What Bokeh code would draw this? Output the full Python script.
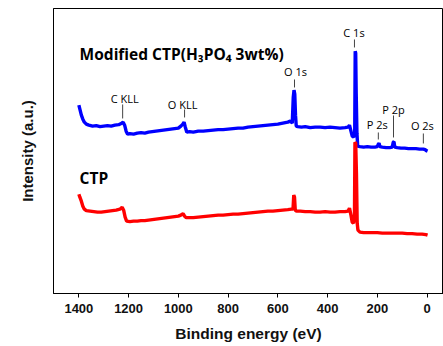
from bokeh.plotting import figure
from bokeh.models import Range1d, FixedTicker
from bokeh.core.properties import value
from bokeh.embed import file_html
from bokeh.resources import INLINE

# ---- data (binding energy eV, intensity a.u.) ----
mod_ev = [1400, 1396, 1390, 1384, 1378, 1370, 1360, 1345, 1330, 1315, 1300, 1285, 1270, 1255, 1240,
          1228, 1222, 1216, 1210, 1204, 1195, 1180, 1165, 1150, 1135, 1120, 1105, 1090, 1075, 1060,
          1045, 1030, 1015, 1000, 990, 982, 977, 972, 966, 955, 940, 920, 900, 880, 860, 840, 820,
          800, 780, 760, 740, 720, 700, 680, 660, 640, 620, 600, 580, 560, 550, 542, 538, 535, 532,
          529, 526, 520, 505, 490, 470, 450, 430, 410, 390, 370, 350, 330, 318, 312, 306, 301,
          295, 291, 289, 287, 285, 282, 279, 270, 255, 240, 225, 210, 200, 196, 193, 190, 180, 165,
          150, 140, 136, 133, 130, 120, 105, 90, 75, 60, 45, 30, 15, 8, 3, -2]
mod_int = [188, 184, 178, 174, 171, 169, 168, 167, 167.5, 166.5, 167, 167.5, 167, 168, 168.5,
           170, 171, 168, 162, 159, 159.5, 159, 160, 160.5, 160, 161, 161.5, 162, 162.5, 163,
           163.5, 164, 164.5, 165, 167, 169, 171, 166, 161, 161.5, 161, 162, 162, 162.5, 163, 163.5, 163.5,
           164, 164.5, 165, 165, 166, 166.5, 167, 167.5, 168, 168.5, 169, 170, 171, 172, 170, 196, 203, 199,
           178, 167, 166.5, 166, 166.5, 165.5, 166, 166, 165.5, 166, 165.5, 165, 165.5, 166, 168, 162, 157,
           156, 160, 242, 240, 200, 160, 147, 146.5, 146, 146.5, 146, 146, 146.5, 149, 150, 146.5, 146, 145.5,
           145.5, 146, 151, 151.5, 146, 145.5, 145, 145, 144.5, 144.5, 144.5, 144, 144, 143.5, 142.5, 142]

ctp_ev = [1400, 1396, 1390, 1384, 1378, 1370, 1355, 1340, 1325, 1310, 1295, 1280, 1265, 1250, 1235,
          1226, 1220, 1214, 1208, 1195, 1180, 1165, 1150, 1135, 1120, 1105, 1090, 1075, 1060, 1045,
          1030, 1015, 1000, 990, 981, 975, 968, 955, 940, 920, 900, 880, 860, 840, 820, 800, 780,
          760, 740, 720, 700, 680, 660, 640, 620, 600, 580, 560, 545, 539, 536, 533, 530, 525,
          510, 490, 470, 450, 430, 410, 390, 370, 350, 330, 318, 312, 306, 301, 296, 292, 290, 287,
          284, 281, 278, 270, 255, 240, 220, 200, 180, 160, 140, 120, 100, 80, 60, 40, 20, 5, -2]
ctp_int = [99, 96, 92, 87, 84, 82.5, 82, 81.5, 81, 81, 81.5, 82, 82.5, 83, 84,
           86, 83, 76, 72, 71.5, 72, 72, 72.5, 72.5, 73, 73.5, 74, 74.5, 75, 75.5,
           76, 76.5, 77, 78, 79.5, 77, 75.5, 75.5, 75.5, 76, 76.5, 77, 77.5, 78, 78, 78.5, 79,
           79, 79.5, 80, 80.5, 81, 81.5, 82, 82, 82.5, 83, 83.5, 84, 84, 98, 96, 83, 82,
           82, 81.5, 81.5, 81, 81, 81.5, 81, 81, 81.5, 81.5, 82, 85, 78, 71, 70, 75, 151, 150,
           120, 70, 63, 61, 60.5, 60.5, 60.5, 60.5, 60, 60, 60, 60, 60, 59.5, 59.5, 59, 59, 58.5, 58]

peak_names = ["C 1s", "O 1s", "C KLL", "O KLL", "P 2p", "P 2s", "O 2s"]
peak_ev = [292, 533, 1224, 975, 135, 196, 15]
peak_text_ev = [294, 529, 1216, 983, 135, 200, 19]
peak_text_y = [260.7, 221.7, 194.7, 188.7, 183.7, 168.7, 167.7]
peak_line_top = [253.7, 213.7, 188.7, 183.7, 177.7, 160.7, 159.7]
peak_line_bot = [245.7, 205.7, 174.7, 175.7, 155.7, 153.7, 149.7]

x_ticks = [0, 200, 400, 600, 800, 1000, 1200, 1400]

p = figure(width=443, height=346, output_backend="svg", toolbar_location=None,
           x_range=Range1d(1502, -66), y_range=Range1d(-0.33, 284.67),
           min_border_left=53, min_border_right=0, min_border_top=8, min_border_bottom=53)
p.grid.visible = False
p.outline_line_color = "black"
p.outline_line_width = 1
p.background_fill_color = "white"
p.border_fill_color = "white"

# x axis
xa = p.xaxis[0]
xa.ticker = FixedTicker(ticks=x_ticks)
xa.minor_tick_line_color = None
xa.major_tick_in = 0
xa.major_tick_out = 4
xa.major_label_text_font = "Liberation Sans"
xa.major_label_text_font_style = "bold"
xa.major_label_text_font_size = "13px"
xa.major_label_text_color = "#111111"
xa.major_label_standoff = 6
xa.axis_label = "Binding energy (eV)"
xa.axis_label_text_font = "Liberation Sans"
xa.axis_label_text_font_style = "bold"
xa.axis_label_text_font_size = "15.5px"
xa.axis_label_text_color = "#111111"
xa.axis_label_standoff = 9

# y axis
ya = p.yaxis[0]
ya.ticker = FixedTicker(ticks=[])
ya.minor_tick_line_color = None
ya.major_tick_in = 0
ya.major_tick_out = 0
ya.major_label_text_font_size = "0px"
ya.axis_label = "Intensity (a.u.)"
ya.axis_label_text_font = "Liberation Sans"
ya.axis_label_text_font_style = "bold"
ya.axis_label_text_font_size = "15px"
ya.axis_label_text_color = "#111111"
ya.axis_label_standoff = 18

# spectra
p.line(mod_ev, mod_int, line_color="#0000FF", line_width=3.4)
p.line(ctp_ev, ctp_int, line_color="#FF0000", line_width=3.4)

# peak markers
p.segment(x0=peak_ev, y0=peak_line_bot, x1=peak_ev, y1=peak_line_top,
          line_color="#444444", line_width=1)
p.text(x=peak_text_ev, y=peak_text_y, text=peak_names, text_align="center",
       text_baseline="middle", text_font=value("Open Sans"), text_font_size="11px",
       text_color="#000000")

# series labels
p.text(x=[1397, 1397], y=[238.7, 114.7], text=["Modified CTP(H\u2083PO\u2084 3wt%)", "CTP"],
       text_align="left", text_baseline="middle", text_font=value("Open Sans"),
       text_font_style="bold", text_font_size="15.5px", text_color="#000000")

open("out.html", "w").write(file_html(p, INLINE))
